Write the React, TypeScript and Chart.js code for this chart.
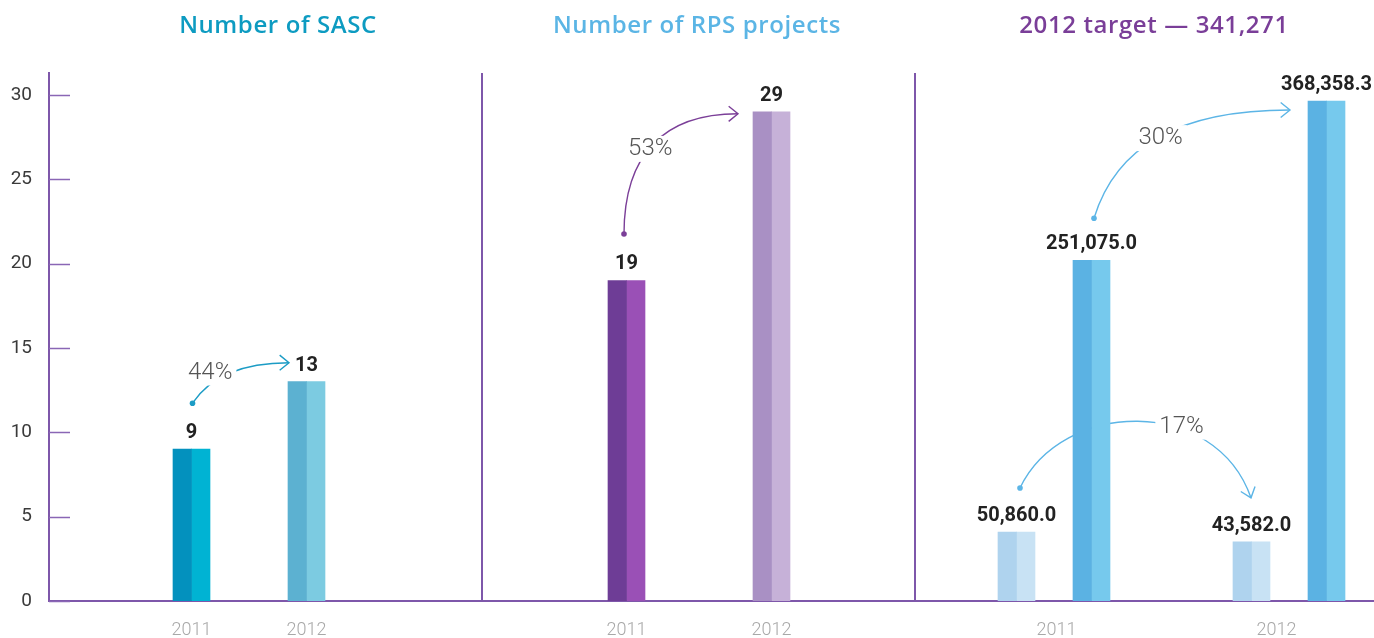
import React, { useEffect, useRef } from 'react';
import { Chart, registerables } from 'chart.js';

Chart.register(...registerables);

// ---------------- data ----------------
const panelTitles = ['Number of SASC', 'Number of RPS projects', '2012 target — 341,271'];
const years = ['2011', '2012'];
const sascCount = [9, 13];
const rpsProjects = [19, 29];
const targetSmall = [50860.0, 43582.0]; // 2011, 2012
const targetLarge = [251075.0, 368358.3]; // 2011, 2012
const leftTicks = [0, 5, 10, 15, 20, 25, 30];
const changeLabels = ['44%', '53%', '30%', '17%'];

// ---------------- layout (category slots) ----------------
const SLOT_COUNT = 265;
const SASC_SLOTS = [28, 51];
const RPS_SLOTS = [115, 144];
const SMALL_SLOTS = [193, 240];
const LARGE_SLOTS = [208, 255];
const TARGET_YEAR_SLOTS = [201, 245];
const DIVIDER_SLOTS = [86.1, 172.7];
const TITLE_SLOTS = [45.3, 129.1, 220.5];
const LEFT_MAX = 31.3;
const RIGHT_MAX = 389000;

// ---------------- styles ----------------
const titleColors = ['#0d9bc1', '#5bb5e5', '#7a3e98'];
const AXIS_COLOR = '#7e57aa';
const sascDark = ['#0391be', '#5cb1d1'];
const sascLight = ['#00b3d3', '#7ccbe1'];
const rpsDark = ['#6e3d96', '#a990c4'];
const rpsLight = ['#9a50b6', '#c6b1d8'];
const smallDark = '#afd3ee';
const smallLight = '#c8e2f4';
const largeDark = '#5bb2e3';
const largeLight = '#76c9ed';

// ---------------- build arrays for the library ----------------
const blank = () => new Array(SLOT_COUNT).fill(null);
const xLabels: string[] = new Array(SLOT_COUNT).fill('');
SASC_SLOTS.forEach((s, i) => (xLabels[s] = years[i]));
RPS_SLOTS.forEach((s, i) => (xLabels[s] = years[i]));
TARGET_YEAR_SLOTS.forEach((s, i) => (xLabels[s] = years[i]));

const countValues: (number | null)[] = blank();
SASC_SLOTS.forEach((s, i) => (countValues[s] = sascCount[i]));
RPS_SLOTS.forEach((s, i) => (countValues[s] = rpsProjects[i]));

const targetValues: (number | null)[] = blank();
SMALL_SLOTS.forEach((s, i) => (targetValues[s] = targetSmall[i]));
LARGE_SLOTS.forEach((s, i) => (targetValues[s] = targetLarge[i]));

const darkColors: string[] = new Array(SLOT_COUNT).fill('#000');
const lightColors: string[] = new Array(SLOT_COUNT).fill('#000');
SASC_SLOTS.forEach((s, i) => { darkColors[s] = sascDark[i]; lightColors[s] = sascLight[i]; });
RPS_SLOTS.forEach((s, i) => { darkColors[s] = rpsDark[i]; lightColors[s] = rpsLight[i]; });
SMALL_SLOTS.forEach((s) => { darkColors[s] = smallDark; lightColors[s] = smallLight; });
LARGE_SLOTS.forEach((s) => { darkColors[s] = largeDark; lightColors[s] = largeLight; });

type Anchor = { axis: 'y' | 'y2'; slot: number; value: number };
const arrows = [
  {
    label: changeLabels[0], color: '#1c9cc5',
    from: { axis: 'y', slot: SASC_SLOTS[0], value: sascCount[0] } as Anchor,
    to: { axis: 'y', slot: SASC_SLOTS[1], value: sascCount[1] } as Anchor,
    startOff: [1, -46], endOff: [-17.5, -19], h0: [20, -30], h1: [40, 0], t: 0.33, textOff: [-7, -7],
  },
  {
    label: changeLabels[1], color: '#7b3f98',
    from: { axis: 'y', slot: RPS_SLOTS[0], value: rpsProjects[0] } as Anchor,
    to: { axis: 'y', slot: RPS_SLOTS[1], value: rpsProjects[1] } as Anchor,
    startOff: [-2.5, -46.5], endOff: [-33.5, 2], h0: [0, -80], h1: [74, 0], t: 0.5, textOff: [-3, 5],
  },
  {
    label: changeLabels[2], color: '#5cb5e6',
    from: { axis: 'y2', slot: LARGE_SLOTS[0], value: targetLarge[0] } as Anchor,
    to: { axis: 'y2', slot: LARGE_SLOTS[1], value: targetLarge[1] } as Anchor,
    startOff: [2.5, -42], endOff: [-36.5, 9], h0: [22, -72], h1: [111, 0], t: 0.5, textOff: [2, 1],
  },
  {
    label: changeLabels[3], color: '#5cb5e6',
    from: { axis: 'y2', slot: SMALL_SLOTS[0], value: targetSmall[0] } as Anchor,
    to: { axis: 'y2', slot: SMALL_SLOTS[1], value: targetSmall[1] } as Anchor,
    startOff: [3.5, -44], endOff: [-0.5, -44], h0: [42, -88], h1: [36, 103], t: 0.63, textOff: [7, 0],
  },
];

function bez(p0: number, p1: number, p2: number, p3: number, t: number) {
  const u = 1 - t;
  return u * u * u * p0 + 3 * u * u * t * p1 + 3 * u * t * t * p2 + t * t * t * p3;
}

const decorPlugin = {
  id: 'decor',
  beforeDatasetsDraw(chart: any) {
    const { ctx, scales } = chart;
    const x = scales.x;
    const pt = (a: Anchor) => [x.getPixelForValue(a.slot), scales[a.axis].getPixelForValue(a.value)];
    ctx.save();
    for (const a of arrows) {
      const [fx, fy] = pt(a.from);
      const [tx, ty] = pt(a.to);
      const p0 = [fx + a.startOff[0], fy + a.startOff[1]];
      const p3 = [tx + a.endOff[0], ty + a.endOff[1]];
      const c1 = [p0[0] + a.h0[0], p0[1] + a.h0[1]];
      const c2 = [p3[0] - a.h1[0], p3[1] - a.h1[1]];
      ctx.strokeStyle = a.color;
      ctx.fillStyle = a.color;
      ctx.lineWidth = 1.4;
      ctx.beginPath();
      ctx.moveTo(p0[0], p0[1]);
      ctx.bezierCurveTo(c1[0], c1[1], c2[0], c2[1], p3[0], p3[1]);
      ctx.stroke();
      // dot
      ctx.beginPath();
      ctx.arc(p0[0], p0[1], 2.8, 0, Math.PI * 2);
      ctx.fill();
      // arrow head
      const ang = Math.atan2(p3[1] - c2[1], p3[0] - c2[0]);
      const L = 12, spread = 0.68;
      ctx.beginPath();
      ctx.moveTo(p3[0] - L * Math.cos(ang - spread), p3[1] - L * Math.sin(ang - spread));
      ctx.lineTo(p3[0], p3[1]);
      ctx.lineTo(p3[0] - L * Math.cos(ang + spread), p3[1] - L * Math.sin(ang + spread));
      ctx.stroke();
      // label with gap
      const lx = bez(p0[0], c1[0], c2[0], p3[0], a.t) + a.textOff[0];
      const ly = bez(p0[1], c1[1], c2[1], p3[1], a.t) + a.textOff[1];
      ctx.font = '300 24px Roboto';
      const w = ctx.measureText(a.label).width;
      ctx.fillStyle = '#ffffff';
      ctx.fillRect(lx - w / 2 - 4, ly - 13, w + 8, 26);
      ctx.fillStyle = '#555555';
      ctx.textAlign = 'center';
      ctx.textBaseline = 'middle';
      ctx.fillText(a.label, lx, ly);
    }
    ctx.restore();
  },
  afterDatasetsDraw(chart: any) {
    const { ctx, scales, chartArea } = chart;
    const x = scales.x;
    ctx.save();
    // value labels
    ctx.font = 'bold 20px Roboto';
    ctx.fillStyle = '#222222';
    ctx.textAlign = 'center';
    ctx.textBaseline = 'alphabetic';
    countValues.forEach((v, s) => {
      if (v === null) return;
      ctx.fillText(String(v), x.getPixelForValue(s), scales.y.getPixelForValue(v) - 11);
    });
    targetValues.forEach((v, s) => {
      if (v === null) return;
      const txt = v.toLocaleString('en-US', { minimumFractionDigits: 1, maximumFractionDigits: 1 });
      ctx.fillText(txt, x.getPixelForValue(s), scales.y2.getPixelForValue(v) - 11);
    });
    // inward tick marks
    ctx.strokeStyle = '#8a66b5';
    ctx.lineWidth = 1.5;
    for (const t of scales.y.ticks) {
      const yy = Math.round(scales.y.getPixelForValue(t.value)) + 0.5;
      ctx.beginPath();
      ctx.moveTo(chartArea.left, yy);
      ctx.lineTo(chartArea.left + 21, yy);
      ctx.stroke();
    }
    // panel dividers
    ctx.strokeStyle = AXIS_COLOR;
    ctx.lineWidth = 2;
    for (const d of DIVIDER_SLOTS) {
      const xx = Math.round(x.getPixelForValue(d));
      ctx.beginPath();
      ctx.moveTo(xx, chartArea.top);
      ctx.lineTo(xx, chartArea.bottom);
      ctx.stroke();
    }
    ctx.restore();
  },
  afterDraw(chart: any) {
    const { ctx, scales, chartArea } = chart;
    ctx.save();
    ctx.font = '600 24px "Open Sans"';
    (ctx as any).letterSpacing = '0.6px';
    ctx.textAlign = 'center';
    ctx.textBaseline = 'alphabetic';
    panelTitles.forEach((t, i) => {
      ctx.fillStyle = titleColors[i];
      ctx.fillText(t, scales.x.getPixelForValue(TITLE_SLOTS[i]), chartArea.top - 40);
    });
    ctx.restore();
  },
};

export default function App() {
  const ref = useRef<HTMLCanvasElement>(null);
  useEffect(() => {
    document.body.style.margin = '0';
    const canvas = ref.current!;
    const common = { barThickness: 18.5, skipNull: true, borderWidth: 0 };
    const chart = new Chart(canvas, {
      type: 'bar',
      data: {
        labels: xLabels,
        datasets: [
          { label: 'counts-dark', data: countValues, backgroundColor: darkColors, yAxisID: 'y', ...common },
          { label: 'counts-light', data: countValues, backgroundColor: lightColors, yAxisID: 'y', ...common },
          { label: 'target-dark', data: targetValues, backgroundColor: darkColors, yAxisID: 'y2', ...common },
          { label: 'target-light', data: targetValues, backgroundColor: lightColors, yAxisID: 'y2', ...common },
        ] as any,
      },
      options: {
        responsive: false,
        animation: false,
        events: [],
        layout: { padding: { top: 73, left: 0, right: 0, bottom: 0 } },
        plugins: { legend: { display: false }, tooltip: { enabled: false }, title: { display: false } },
        scales: {
          x: {
            type: 'category',
            stacked: false,
            offset: true,
            grid: { display: false, drawTicks: false },
            border: { display: true, color: AXIS_COLOR, width: 2 },
            ticks: {
              autoSkip: false,
              maxRotation: 0,
              minRotation: 0,
              padding: 0,
              color: '#a8a8a8',
              font: { family: 'Roboto', size: 18, weight: '300', lineHeight: '58px' },
            },
            afterFit: (s: any) => { s.height = 37; },
          },
          y: {
            type: 'linear',
            position: 'left',
            stacked: false,
            min: 0,
            max: LEFT_MAX,
            grid: { display: false, drawTicks: false },
            border: { display: true, color: AXIS_COLOR, width: 2 },
            ticks: {
              stepSize: 5,
              includeBounds: false,
              padding: 17,
              color: '#3a3a3a',
              font: { family: 'Roboto', size: 19, weight: '400' },
              callback: (v: any) => (leftTicks.includes(Number(v)) ? String(v) : ''),
            },
            afterFit: (s: any) => { s.width = 49; },
          },
          y2: {
            type: 'linear',
            display: false,
            stacked: false,
            min: 0,
            max: RIGHT_MAX,
          },
        },
      } as any,
      plugins: [decorPlugin],
    });
    return () => chart.destroy();
  }, []);
  return (
    <div style={{ width: 1374, height: 638, position: 'relative', overflow: 'hidden' }}>
      <canvas ref={ref} width={1374} height={638} style={{ display: 'block' }} />
    </div>
  );
}
